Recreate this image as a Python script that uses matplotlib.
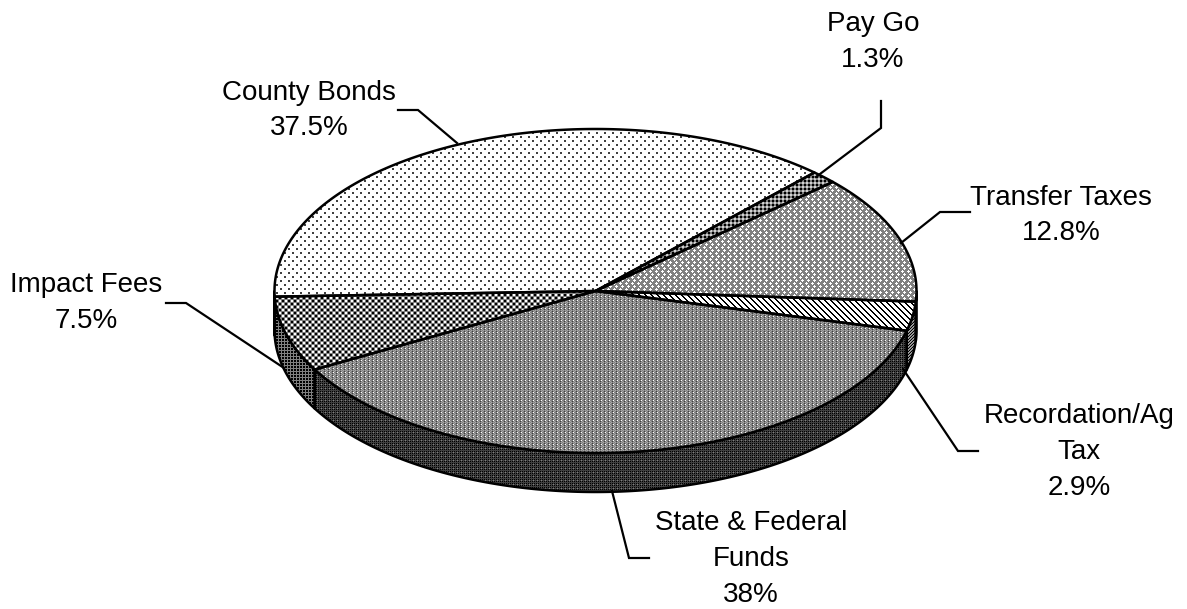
import numpy as np
import matplotlib
matplotlib.use("Agg")
import matplotlib.pyplot as plt
from matplotlib.patches import Polygon

plt.rcParams['font.family'] = ['Liberation Sans', 'DejaVu Sans']

# Funding shares, clockwise from Pay Go
sources = ["Pay Go", "Transfer Taxes", "Recordation/Ag\nTax", "State & Federal\nFunds", "Impact Fees", "County Bonds"]
shares = [1.3, 12.8, 2.9, 38.0, 7.5, 37.5]
share_labels = ["1.3%", "12.8%", "2.9%", "38%", "7.5%", "37.5%"]

# Pie geometry in pixels
CX, CY = 595.5, 291
RX, RY = 321, 162
DEPTH = 39
START = 47

# Where each label sits and the leader line that goes back to the pie
label_pos = [(873, 42), (1061, 215.5), (1079, 452), (751, 559), (86, 303), (309, 110.5)]
leaders = [
    [(881, 101), (881, 128), (816, 177)],
    [(970, 212), (940, 212), (901, 243)],
    [(978, 451), (958, 451), (903, 369)],
    [(649, 558), (629, 558), (612, 491)],
    [(166, 303), (186, 303), (284, 368)],
    [(398, 110), (418, 110), (457, 143)],
]

# Fill patterns, one character per pixel
LEVELS = {'#': 0.0, 'd': 0.25, 'm': 0.5, 'g': 0.65, 'l': 0.82, '.': 1.0}
DOTS = ["dd......", "dd......", "........", "........", "....dd..", "....dd..", "........", "........"]
DARK_DOTS = ["##mm", "##mm", "mmll", "mmll"]
LATTICE = ["mm.mmm", "m...mm", "mm.mmm", "mmmm.m", "mmm...", "mmmm.m"]
STRIPES = ["..##..", "...##.", "....##", "#....#", "##....", ".##..."]
CHECK = ["##m..m", "##m..m", "mmmmmm", "..m##m", "..m##m", "mmmmmm"]
FINE = ["m.mm", "dmgm", "mgmg", "dmgm"]
DARK_FINE = ["dmdd", "#d#d", "dddd", "#d#d"]
SIDE_CHECK = ["##m", "##m", "mmm"]
SIDE_STRIPES = ["gm#", "m#g", "#gm"]

top_fill = [DARK_DOTS, LATTICE, STRIPES, FINE, CHECK, DOTS]
side_fill = [DARK_DOTS, LATTICE, SIDE_STRIPES, DARK_FINE, SIDE_CHECK, DOTS]


def texture(rows, width=1187, height=609):
    tile = np.array([[LEVELS[c] for c in row] for row in rows])
    ny = height // tile.shape[0] + 1
    nx = width // tile.shape[1] + 1
    return np.tile(tile, (ny, nx))[:height, :width]


def arc(t1, t2, dy=0):
    # t1 and t2 in degrees, points follow the ellipse of the top face
    n = max(int(abs(t1 - t2) * 2), 2)
    t = np.radians(np.linspace(t1, t2, n))
    return np.column_stack([CX + RX * np.cos(t), CY - RY * np.sin(t) + dy])


def fill_shape(ax, pts, rows, z):
    im = ax.imshow(texture(rows), cmap="gray", vmin=0, vmax=1, extent=(0, 1187, 609, 0),
                   interpolation="nearest", aspect="auto", zorder=z)
    poly = Polygon(pts, closed=True, facecolor="none", edgecolor="black", linewidth=1.8,
                   joinstyle="round", zorder=z + 0.1)
    ax.add_patch(poly)
    im.set_clip_path(poly)


fig = plt.figure(figsize=(11.87, 6.09), dpi=100)
ax = fig.add_axes([0, 0, 1, 1])

# Slice boundaries, running clockwise
edges = START - 360 * np.cumsum([0] + shares) / sum(shares)

# Side wall first: only the part of each slice on the front half shows
for i in range(len(shares)):
    for lo, hi in [(-180, 0), (-540, -360)]:
        t1 = min(edges[i], hi)
        t2 = max(edges[i + 1], lo)
        if t1 > t2:
            upper = arc(t1, t2)
            lower = arc(t2, t1, DEPTH)
            fill_shape(ax, np.vstack([upper, lower]), side_fill[i], 2)

# Top face
for i in range(len(shares)):
    pts = np.vstack([[(CX, CY)], arc(edges[i], edges[i + 1])])
    fill_shape(ax, pts, top_fill[i], 3)

for line in leaders:
    xs, ys = zip(*line)
    ax.plot(xs, ys, color="black", lw=1.6, solid_joinstyle="miter", zorder=5)

for name, pct, (x, y) in zip(sources, share_labels, label_pos):
    ax.text(x, y, name + "\n" + pct, ha="center", va="center", fontsize=20,
            linespacing=1.49, color="black", zorder=6)

ax.set_xlim(0, 1187)
ax.set_ylim(609, 0)
ax.axis("off")

fig.savefig("out.png", dpi=100)
